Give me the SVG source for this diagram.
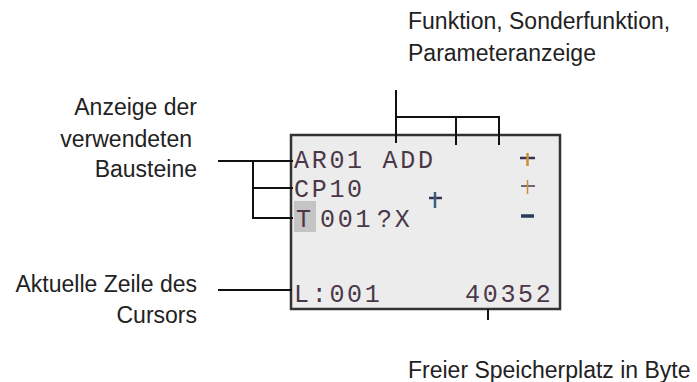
<svg xmlns="http://www.w3.org/2000/svg" width="697" height="382" viewBox="0 0 697 382">
<style>
.lbl{font-family:"Liberation Sans",Arial,sans-serif;font-size:23px;fill:#222}
.lcd{font-family:"Liberation Mono","DejaVu Sans Mono",monospace;font-size:25px;letter-spacing:2.7px;fill:#4a3848}
.ln{stroke:#111;stroke-width:2;fill:none}
</style>
<rect width="697" height="382" fill="#fff"/>
<g id="display">
<rect x="291" y="135" width="269" height="174" fill="#ececec" stroke="#333" stroke-width="2.5"/>
<rect x="294" y="201" width="22" height="31" fill="#c4c4c4"/>
<text class="lcd" x="294" y="168">AR01 ADD</text>
<text class="lcd" x="294" y="197">CP10</text>
<text class="lcd" x="296" y="227">T</text>
<text class="lcd" x="320" y="227">001</text>
<text class="lcd" x="377" y="227">?X</text>
<text class="lcd" x="294" y="302">L:001</text>
<text class="lcd" x="465" y="302">40352</text>
<g stroke-width="2.5">
<line x1="520" y1="158" x2="535" y2="158" stroke="#3a3050"/>
<line x1="527.5" y1="153" x2="527.5" y2="166" stroke="#c89030"/>
<line x1="521" y1="186" x2="535" y2="186" stroke="#4a3a50" stroke-width="1.5"/>
<line x1="527.5" y1="180" x2="527.5" y2="194" stroke="#c89030" stroke-width="1.5"/>
<line x1="429" y1="198" x2="442" y2="198" stroke="#3a3050"/>
<line x1="435" y1="192" x2="435" y2="208" stroke="#3a6080"/>
<line x1="521" y1="216" x2="534" y2="216" stroke="#2a3a60" stroke-width="3.5"/>
</g>
</g>
<g id="label-funktion">
<text class="lbl" x="408" y="29">Funktion, Sonderfunktion,</text>
<text class="lbl" x="408" y="61">Parameteranzeige</text>
</g>
<g id="label-bausteine">
<text class="lbl" x="197" y="115" text-anchor="end">Anzeige der</text>
<text class="lbl" x="192" y="147" text-anchor="end">verwendeten</text>
<text class="lbl" x="197" y="177" text-anchor="end">Bausteine</text>
</g>
<g id="label-zeile">
<text class="lbl" x="197" y="292" text-anchor="end">Aktuelle Zeile des</text>
<text class="lbl" x="197" y="323" text-anchor="end">Cursors</text>
</g>
<g id="label-speicher">
<text class="lbl" x="408" y="378">Freier Speicherplatz in Byte</text>
</g>
<g id="connectors" class="ln">
<path d="M396 90 V143 M396 117 H499 V145 M456 117 V145"/>
<path d="M218 161 H293 M253 161 V218 H293 M253 188 H293"/>
<path d="M218 290 H292"/>
<path d="M488 309 V320"/>
</g>
</svg>
